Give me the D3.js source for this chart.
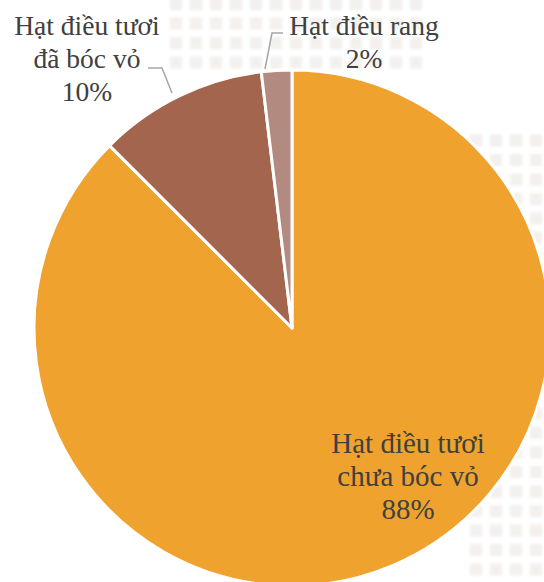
<!DOCTYPE html>
<html>
<head>
<meta charset="utf-8">
<script src="https://cdn.jsdelivr.net/npm/d3@7"></script>
<style>
html,body{margin:0;padding:0;background:#fff;}
svg{display:block;}
</style>
</head>
<body>
<svg id="chart" width="544" height="582"></svg>
<script>
const categories = ["Hạt điều tươi chưa bóc vỏ", "Hạt điều tươi đã bóc vỏ", "Hạt điều rang"];
const values = [87.5, 10.6, 1.9];
const percentLabels = ["88%", "10%", "2%"];
const labelLines = [["Hạt điều tươi", "chưa bóc vỏ"], ["Hạt điều tươi", "đã bóc vỏ"], ["Hạt điều rang"]];
const colors = ["#EFA32E", "#A4654F", "#B38A80"];

const svg = d3.select("#chart");
const cx = 292, cy = 328, R = 258;

// faint decorative background squares
const defs = svg.append("defs");
defs.append("filter").attr("id", "soft").append("feGaussianBlur").attr("stdDeviation", 1.5);
const bg = svg.append("g").attr("fill", "#F3F0ED").attr("filter", "url(#soft)");
const cells = [];
for (let x = 170; x < 544; x += 20) {
  for (let y = -2; y < 582; y += 19.5) {
    const inTop = y < 62 && x < 420;
    const inRight = x > 450 && y > 120 && ((x - 450) * 1.2 + (y - 120) * 0.2) > 25;
    if (inTop || inRight) cells.push([x, y]);
  }
}
bg.selectAll("rect").data(cells).join("rect")
  .attr("x", d => d[0]).attr("y", d => d[1])
  .attr("width", 12).attr("height", 12);

const data = categories.map((c, i) => ({ name: c, value: values[i], i }));
const pie = d3.pie().sort(null).value(d => d.value);
const arc = d3.arc().innerRadius(0).outerRadius(R);
const arcs = pie(data);

const g = svg.append("g").attr("transform", `translate(${cx},${cy})`);
g.selectAll("path").data(arcs).join("path")
  .attr("d", arc)
  .attr("fill", d => colors[d.data.i])
  .attr("stroke", "#fff")
  .attr("stroke-width", 3)
  .attr("stroke-linejoin", "round");

// leader lines
const leaders = [
  [[148, 68], [162, 68], [172, 93]],
  [[283, 33], [272, 33], [265, 69]]
];
svg.selectAll("polyline.leader").data(leaders).join("polyline")
  .attr("class", "leader")
  .attr("points", d => d.map(p => p.join(",")).join(" "))
  .attr("fill", "none")
  .attr("stroke", "#A6A6A6")
  .attr("stroke-width", 1.5);

// labels
const labelPos = [[408, 453], [87, 35], [364, 35]];
const labelSize = [29, 27.5, 27.5];
const lh = 33;
labelLines.forEach((lines, i) => {
  const t = svg.append("text")
    .attr("text-anchor", "middle")
    .style("font-family", "'Liberation Serif', 'Times New Roman', serif")
    .attr("font-size", labelSize[i])
    .attr("fill", "#404040");
  const all = lines.concat([percentLabels[i]]);
  all.forEach((s, k) => {
    t.append("tspan").attr("x", labelPos[i][0]).attr("y", labelPos[i][1] + k * lh).text(s);
  });
});
</script>
</body>
</html>
